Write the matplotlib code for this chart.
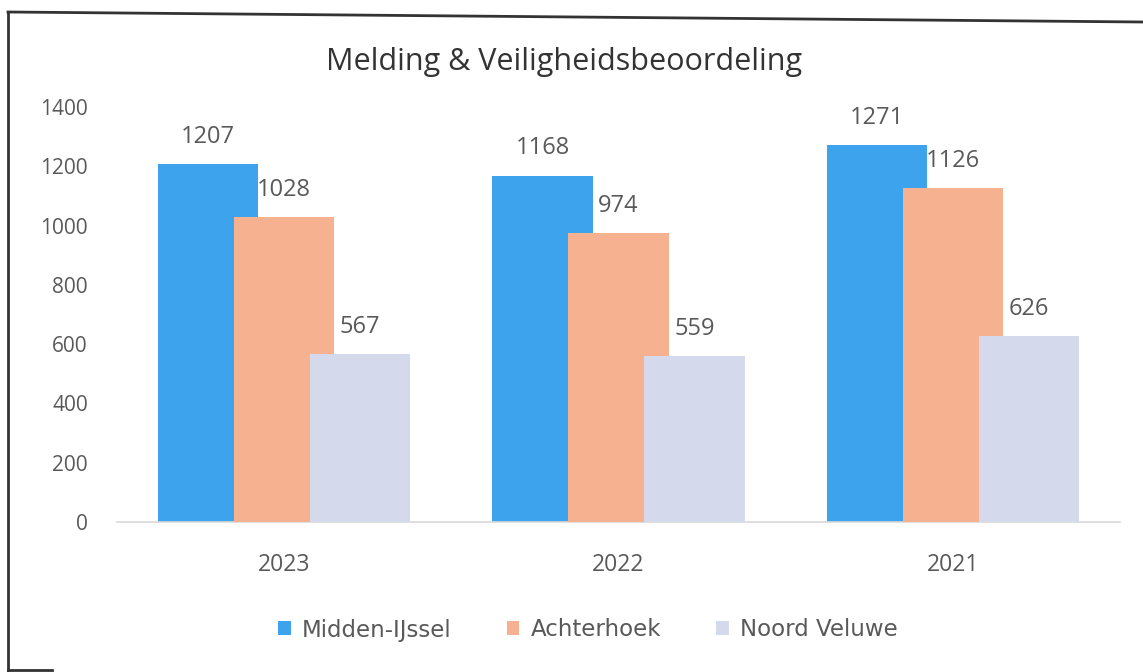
import matplotlib
matplotlib.use("Agg")
import matplotlib.pyplot as plt
from matplotlib.lines import Line2D
from matplotlib.patches import Patch
import numpy as np

plt.rcParams['font.family'] = ['Open Sans', 'DejaVu Sans']

categories = ["2023", "2022", "2021"]
series_names = ["Midden-IJssel", "Achterhoek", "Noord Veluwe"]
midden_ijssel = [1207, 1168, 1271]
achterhoek = [1028, 974, 1126]
noord_veluwe = [567, 559, 626]
yticks = [0, 200, 400, 600, 800, 1000, 1200, 1400]
title = "Melding & Veiligheidsbeoordeling"

colors = ["#3DA3EC", "#F6B190", "#D4D9EC"]
text_color = "#595959"

fig = plt.figure(figsize=(11.43, 6.72), dpi=100)
ax = fig.add_axes([117/1143, 1 - 522/672, (1120-117)/1143, (522-107)/672])

x = np.arange(len(categories))
step = 0.2275
width = 0.30
series = [midden_ijssel, achterhoek, noord_veluwe]
for i, (vals, col, name) in enumerate(zip(series, colors, series_names)):
    bars = ax.bar(x + (i - 1) * step, vals, width=width, color=col, zorder=2 + i, label=name)
    for b, v in zip(bars, vals):
        ax.annotate(str(v), (b.get_x() + b.get_width() / 2, v), xytext=(0, 11),
                    textcoords="offset points", ha="center", va="bottom",
                    fontsize=17, color=text_color, zorder=10)

ax.set_xlim(-0.5, 2.5)
ax.set_ylim(0, 1400)
ax.set_yticks(yticks)
ax.set_xticks(x)
ax.set_xticklabels(categories)
for s in ["top", "right", "left"]:
    ax.spines[s].set_visible(False)
ax.spines["bottom"].set_color("#D9D9D9")
ax.spines["bottom"].set_linewidth(1.2)
ax.tick_params(axis="y", length=0, pad=21, labelsize=15, labelcolor=text_color)
ax.tick_params(axis="x", length=0, pad=22, labelsize=16.5, labelcolor=text_color)

fig.text(564/1143, 1 - 62/672, title, ha="center", va="center", fontsize=22, color="#333333")

handles = [Patch(facecolor=c, edgecolor="none") for c in colors]
fig.legend(handles, series_names, loc="center", bbox_to_anchor=(588/1143, 1 - 630/672),
           ncol=3, frameon=False, labelcolor=text_color,
           prop={'family': ['DejaVu Sans'], 'size': 16.5},
           handlelength=0.55, handleheight=0.55, handletextpad=0.5, columnspacing=2.4)

# scanned frame border
fig.add_artist(Line2D([8/1143, 8/1143], [0, 1 - 12/672], transform=fig.transFigure, color="#333333", lw=2))
fig.add_artist(Line2D([8/1143, 1], [1 - 12/672, 1 - 22/672], transform=fig.transFigure, color="#333333", lw=2))
fig.add_artist(Line2D([8/1143, 52/1143], [1 - 670/672, 1 - 670/672], transform=fig.transFigure, color="#333333", lw=2))

fig.savefig("out.png", dpi=100, facecolor="white")
